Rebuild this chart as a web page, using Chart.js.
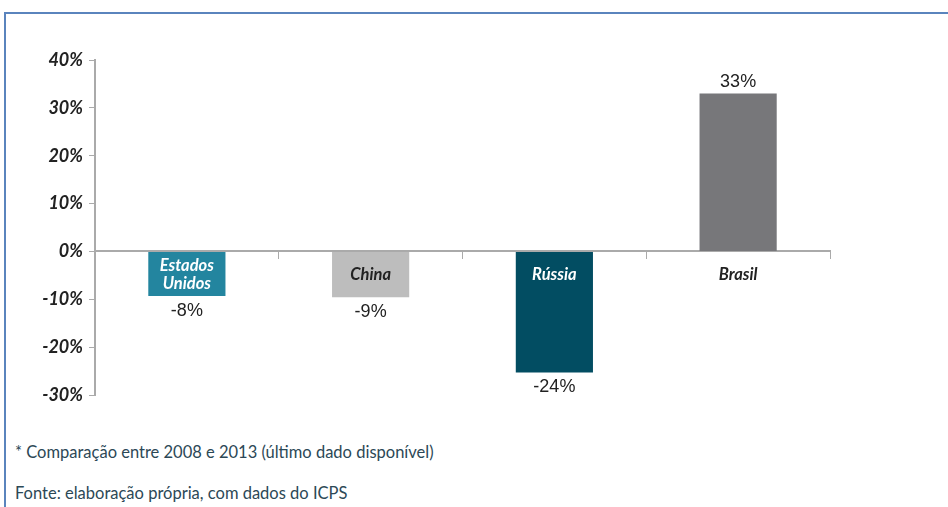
<!DOCTYPE html>
<html>
<head>
<meta charset="utf-8">
<script src="https://cdn.jsdelivr.net/npm/chart.js@4.4.1/dist/chart.umd.min.js"></script>
<style>
  body { margin: 0; background: #fff; }
  #frame { position: absolute; left: 4px; top: 12px; width: 960px; height: 520px;
           border-top: 2px solid #5a84bd; border-left: 2px solid #5a84bd; }
  #wrap { position: absolute; left: 0; top: 0; width: 948px; height: 420px; }
  .note { position: absolute; left: 15px; font-family: Lato, sans-serif; font-size: 16.5px; color: #2c4856; }
</style>
</head>
<body>
<div id="frame"></div>
<div id="wrap"><canvas id="bars"></canvas></div>
<div class="note" style="top:442px">* Comparação entre 2008 e 2013 (último dado disponível)</div>
<div class="note" style="top:483px">Fonte: elaboração própria, com dados do ICPS</div>
<script>
const paises = [["Estados", "Unidos"], "China", "Rússia", "Brasil"]
const variacao = [-9.3, -9.6, -25.3, 33]
const rotulos = ["-8%", "-9%", "-24%", "33%"]
const yTicks = [-30, -20, -10, 0, 10, 20, 30, 40]

const coresBarra = ["#23859f", "#bdbdbd", "#024d62", "#77777a"]
const coresTexto = ["#ffffff", "#222222", "#ffffff", "#222222"]

const labelsPlugin = {
    id: "labelsPlugin",
    afterDatasetsDraw(chart) {
        const c = chart.ctx
        const x = chart.scales.x
        const y = chart.scales.y
        const zero = y.getPixelForValue(0)
        c.save()
        c.textAlign = "center"
        c.textBaseline = "middle"
        // nomes dos paises
        c.font = "italic bold 16.5px Lato"
        paises.forEach((p, i) => {
            const px = x.getPixelForValue(i)
            c.fillStyle = coresTexto[i]
            if (Array.isArray(p)) {
                c.fillText(p[0], px, zero + 14)
                c.fillText(p[1], px, zero + 32)
            } else {
                c.fillText(p, px, zero + 23)
            }
        })
        // valores
        c.font = "18px 'Liberation Sans'"
        c.fillStyle = "#222"
        chart.getDatasetMeta(0).data.forEach((bar, i) => {
            const v = variacao[i]
            const py = v < 0 ? bar.y + 15 : bar.y - 11
            c.fillText(rotulos[i], bar.x, py)
        })
        c.restore()
    }
}

const ctx = document.getElementById("bars")

new Chart(ctx, {
    type: "bar",
    data: {
        labels: paises.map(p => Array.isArray(p) ? p.join(" ") : p),
        datasets: [{
            data: variacao,
            backgroundColor: coresBarra,
            barPercentage: 0.42,
            categoryPercentage: 1
        }]
    },
    options: {
        responsive: true,
        maintainAspectRatio: false,
        animation: false,
        layout: { padding: { top: 60, right: 118, bottom: 25, left: 0 } },
        plugins: { legend: { display: false }, tooltip: { enabled: false } },
        scales: {
            x: {
                position: { y: 0 },
                afterFit: s => { s.height = 0 },
                grid: { drawOnChartArea: false, offset: true, tickLength: 7, color: "#aaa" },
                border: { color: "#aaa", width: 2 },
                ticks: { display: false }
            },
            y: {
                min: -30, max: 40,
                afterFit: s => { s.width = 95 },
                afterBuildTicks: s => { s.ticks = yTicks.map(v => ({ value: v })) },
                grid: { drawOnChartArea: false, tickLength: 6, color: "#aaa" },
                border: { color: "#aaa", width: 2 },
                ticks: {
                    padding: 6,
                    color: "#222",
                    font: { family: "Lato", size: 18, weight: "bold", style: "italic" },
                    callback: v => v + "%"
                }
            }
        }
    },
    plugins: [labelsPlugin]
})
</script>
</body>
</html>
